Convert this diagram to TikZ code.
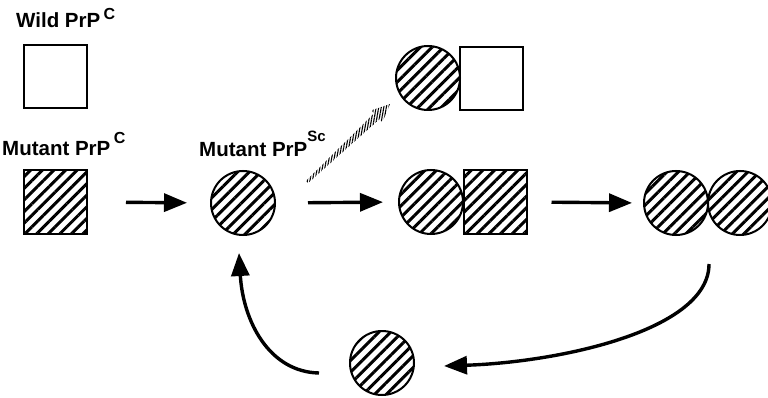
\documentclass[tikz,border=0pt]{standalone}
\usepackage{fontspec}
\setmainfont{Liberation Sans}
\usepackage{tikz}
\usetikzlibrary{arrows.meta, patterns.meta}
\newcommand{\lblfont}{\fontsize{20.5}{22}\selectfont\bfseries}
\newcommand{\supfont}[1]{\fontsize{#1}{#1}\selectfont\bfseries}

\tikzset{
    prot/.style={draw, line width=2pt, inner sep=0pt},
    ball/.style={prot, circle, minimum size=64pt},
    box/.style={prot, rectangle, minimum size=63pt},
    hatch/.style={pattern={Lines[angle=45, distance=8.2pt, line width=3pt]}},
    arr/.style={line width=3.4pt, -{Triangle[length=23pt, width=18pt]}},
    lbl/.style={anchor=base west, inner sep=0pt, font=\lblfont}
}

\begin{document}
\begin{tikzpicture}[x=1pt, y=-1pt]
    \useasboundingbox (0,0) rectangle (768,398);

    % labels
    \node[lbl] (wildlbl) at (16,28) {Wild PrP\,\raisebox{8pt}{\supfont{16}C}};
    \node[lbl] (mutlbl) at (2,156) {Mutant PrP\,\raisebox{12pt}{\supfont{16}C}};
    \node[lbl] (sclbl) at (199,157) {Mutant PrP\raisebox{15pt}{\supfont{15}Sc}};

    % monomers
    \node[box] (wild) at (55.5,77) {};
    \node[box, hatch] (mutC) at (55,202) {};
    \node[ball, hatch] (sc) at (243,203) {};
    \node[ball, hatch] (mono) at (382,363) {};

    % mixed dimers
    \node[ball, hatch] (topA) at (428,78) {};
    \node[box] (topB) at (491,78.5) {};
    \node[ball, hatch] (midA) at (431,202) {};
    \node[box, hatch] (midB) at (495,202) {};

    % Sc dimer
    \node[ball, hatch] (dimA) at (676,203) {};
    \node[ball, hatch] (dimB) at (740,203) {};

    % straight steps
    \draw[arr, shorten <=38pt, shorten >=23pt] (mutC.east) -- (sc.west);
    \draw[arr, shorten <=32pt, shorten >=15pt] (sc.east) -- (midA.west);
    \draw[arr, shorten <=24pt, shorten >=11pt] (midB.east) -- (dimA.west);

    % hatched arrow to the wild type pair
    \fill[pattern={Lines[angle=80, distance=2.5pt, line width=1.1pt]}]
        (308,183.1) -- (379.6,119.1) -- (382.4,122.0) -- (390,104)
        -- (371.4,110.4) -- (374.2,113.3) -- (306,180.9) -- cycle;

    % recycling
    \draw[arr] ([yshift=-61pt]dimA.east) .. controls +(0,66) and +(117,-4)
        .. ([xshift=29pt, yshift=-3pt]mono.east);
    \draw[arr] ([xshift=-30pt, yshift=-10pt]mono.west) .. controls +(-50,-1) and +(4,68)
        .. ([xshift=-4pt, yshift=-17pt]sc.south);
\end{tikzpicture}
\end{document}
